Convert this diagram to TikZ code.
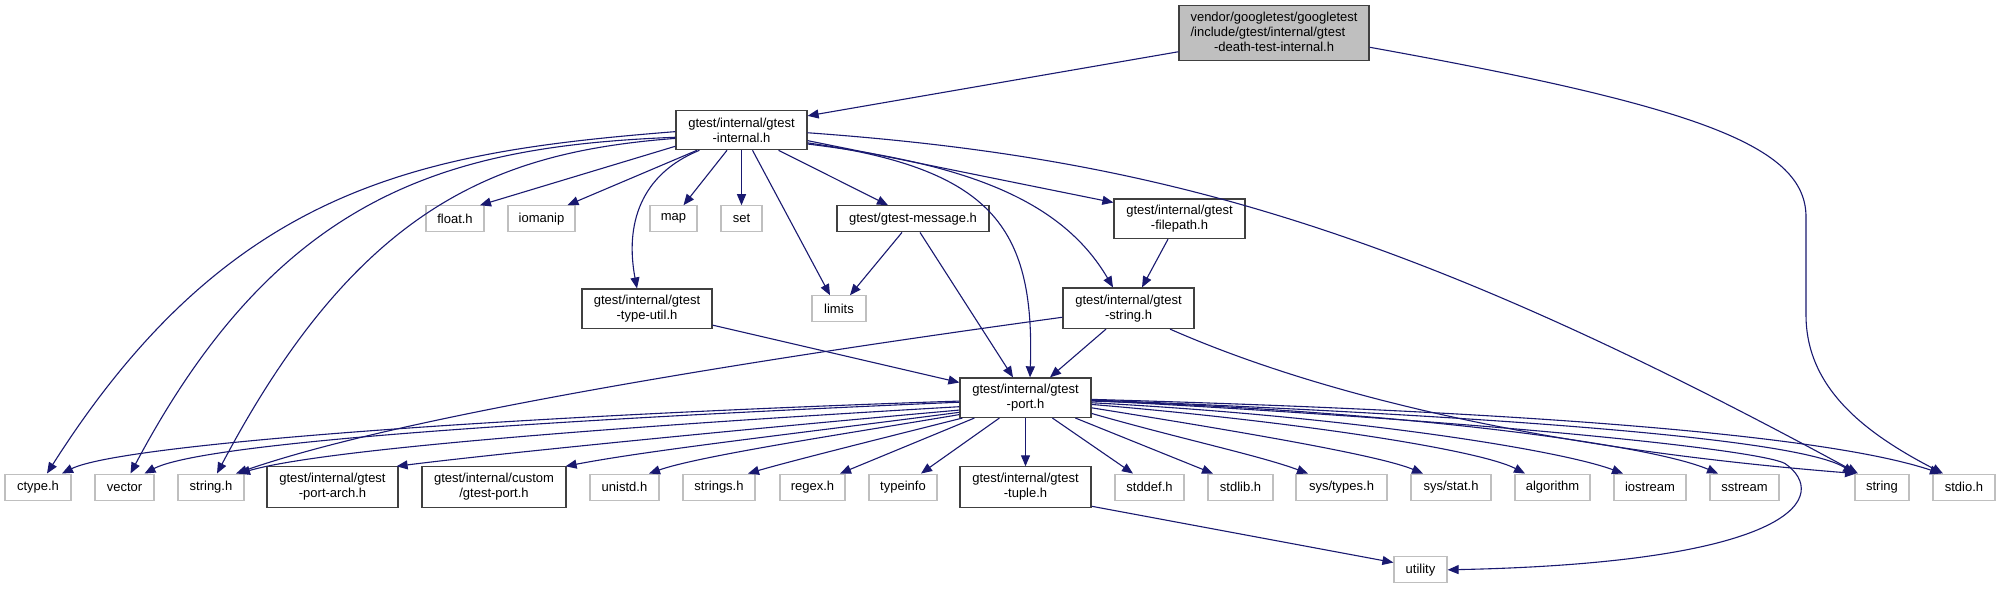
\documentclass[tikz,border=0pt]{standalone}
\usepackage{fontspec}
\setmainfont{Liberation Sans}
\usetikzlibrary{arrows.meta}
\definecolor{edgec}{HTML}{191970}
\definecolor{grayb}{HTML}{BFBFBF}
\definecolor{darkb}{HTML}{404040}
\begin{document}
\begin{tikzpicture}[x=1pt,y=-1.125pt,
  every node/.style={font=\fontsize{13}{15}\selectfont, inner sep=0pt, align=center},
  gbox/.style={draw=grayb, line width=1.2pt, fill=white, minimum height=26pt},
  bbox/.style={draw=darkb, line width=1.2pt, fill=white, minimum height=39.5pt},
  dep/.style={draw=edgec, line width=1.1pt, -{Triangle[length=11pt,width=9pt]}}
]
\useasboundingbox (0,0) rectangle (2001,522.67);
\fill[white] (0,0) rectangle (2001,522.67);

% black-bordered nodes
\node[bbox, fill=grayb, minimum width=190pt, minimum height=55pt] (root) at (1274,29.5)
  {\begin{tabular}{@{}l@{}}vendor/googletest/googletest\\/include/gtest/internal/gtest\\\multicolumn{1}{@{}c@{}}{-death-test-internal.h}\end{tabular}};
\node[bbox, minimum width=131pt] (internal) at (741.5,115.5) {gtest/internal/gtest\\-internal.h};
\node[bbox, minimum width=152pt, minimum height=26pt] (message) at (913,194.5) {gtest/gtest-message.h};
\node[bbox, minimum width=131pt] (filepath) at (1179.5,194.5) {gtest/internal/gtest\\-filepath.h};
\node[bbox, minimum width=130pt] (typeutil) at (647,274.5) {gtest/internal/gtest\\-type-util.h};
\node[bbox, minimum width=131pt, minimum height=40.5pt] (gstring) at (1128.5,274) {gtest/internal/gtest\\-string.h};
\node[bbox, minimum width=131pt] (port) at (1025.5,353.5) {gtest/internal/gtest\\-port.h};
\node[bbox, minimum width=131pt, minimum height=40.5pt] (portarch) at (332.5,433) {gtest/internal/gtest\\-port-arch.h};
\node[bbox, minimum width=144pt, minimum height=40.5pt] (custom) at (494,433) {gtest/internal/custom\\/gtest-port.h};
\node[bbox, minimum width=131pt, minimum height=40.5pt] (tuple) at (1025.5,433) {gtest/internal/gtest\\-tuple.h};

% gray-bordered nodes
\node[gbox, minimum width=58pt] (float) at (455,194.5) {float.h};
\node[gbox, minimum width=67pt] (iomanip) at (541.5,194.5) {iomanip};
\node[gbox, minimum width=47pt] (map) at (673.5,194.5) {map};
\node[gbox, minimum width=41pt] (set) at (741.5,194.5) {set};
\node[gbox, minimum width=54pt] (limits) at (839,274.5) {limits};
\node[gbox, minimum width=66pt] (ctype) at (38,433) {ctype.h};
\node[gbox, minimum width=59pt] (vector) at (124.5,433) {vector};
\node[gbox, minimum width=66pt] (stringh) at (211,433) {string.h};
\node[gbox, minimum width=69pt] (unistd) at (624.5,433) {unistd.h};
\node[gbox, minimum width=72pt] (strings) at (719,433) {strings.h};
\node[gbox, minimum width=65pt] (regex) at (812.5,433) {regex.h};
\node[gbox, minimum width=68pt] (typeinfo) at (903,433) {typeinfo};
\node[gbox, minimum width=69pt] (stddef) at (1149.5,433) {stddef.h};
\node[gbox, minimum width=65pt] (stdlib) at (1240.5,433) {stdlib.h};
\node[gbox, minimum width=91pt] (systypes) at (1341.5,433) {sys/types.h};
\node[gbox, minimum width=80pt] (sysstat) at (1451,433) {sys/stat.h};
\node[gbox, minimum width=75pt] (algorithm) at (1552.5,433) {algorithm};
\node[gbox, minimum width=72pt] (iostream) at (1650,433) {iostream};
\node[gbox, minimum width=69pt] (sstream) at (1744.5,433) {sstream};
\node[gbox, minimum width=54pt] (string) at (1882,433) {string};
\node[gbox, minimum width=62pt] (stdio) at (1964,433) {stdio.h};
\node[gbox, minimum width=53pt] (utility) at (1420.5,506.5) {utility};

% root edges
\draw[dep] ([shift={(0,16.5)}]root.west) -- ([shift={(0,-12.5)}]internal.east);
\draw[dep] ([shift={(0,12.5)}]root.east) .. controls (1700,95) and (1806,130) .. (1806,193) -- (1806,280) .. controls (1806,345) and (1865,385) .. ([shift={(-21,0)}]stdio.north);

% internal edges
\draw[dep] ([shift={(0,1.5)}]internal.west) .. controls (420,135) and (230,165) .. ([shift={(9,0)}]ctype.north);
\draw[dep] ([shift={(0,6.5)}]internal.west) .. controls (450,130) and (280,170) .. ([shift={(6,0)}]vector.north);
\draw[dep] ([shift={(0,7.5)}]internal.west) .. controls (500,135) and (360,180) .. ([shift={(6,0)}]stringh.north);
\draw[dep] ([shift={(0,14.5)}]internal.west) -- ([shift={(25,0)}]float.north);
\draw[dep] ([shift={(-44.5,0)}]internal.south) -- ([shift={(26,0)}]iomanip.north);
\draw[dep] ([shift={(-42,0)}]internal.south) .. controls (640,155) and (625,200) .. ([shift={(-10,0)}]typeutil.north);
\draw[dep] ([shift={(-14.5,0)}]internal.south) -- ([shift={(10,0)}]map.north);
\draw[dep] (internal.south) -- (set.north);
\draw[dep] ([shift={(11,0)}]internal.south) -- ([shift={(-9,0)}]limits.north);
\draw[dep] ([shift={(37,0)}]internal.south) -- ([shift={(-25,0)}]message.north);
\draw[dep] ([shift={(0,9.5)}]internal.east) -- ([shift={(0,-14.5)}]filepath.west);
\draw[dep] ([shift={(0,12.5)}]internal.east) .. controls (960,145) and (1060,175) .. ([shift={(-15.5,0)}]gstring.north);
\draw[dep] ([shift={(0,11.5)}]internal.east) .. controls (990,150) and (1035,200) .. ([shift={(4.5,0)}]port.north);
\draw[dep] ([shift={(0,2.5)}]internal.east) .. controls (1150,140) and (1400,200) .. ([shift={(-24,0)}]string.north);

% message, filepath, string, type-util edges
\draw[dep] ([shift={(-11,0)}]message.south) -- ([shift={(11,0)}]limits.north);
\draw[dep] ([shift={(7,0)}]message.south) -- ([shift={(-12.5,0)}]port.north);
\draw[dep] ([shift={(-11.5,0)}]filepath.south) -- ([shift={(13.5,0)}]gstring.north);
\draw[dep] ([shift={(-22.5,0)}]gstring.south) -- ([shift={(24.5,0)}]port.north);
\draw[dep] ([shift={(0,8)}]gstring.west) .. controls (750,320) and (400,370) .. ([shift={(25,0)}]stringh.north);
\draw[dep] ([shift={(41.5,0)}]gstring.south) .. controls (1330,355) and (1560,400) .. ([shift={(-26,0)}]string.north);
\draw[dep] ([shift={(0,14.5)}]typeutil.east) -- ([shift={(0,-13.5)}]port.west);

% port edges
\draw[dep] ([shift={(0,3)}]port.west) .. controls (500,370) and (120,395) .. ([shift={(24,0)}]ctype.north);
\draw[dep] ([shift={(0,4)}]port.west) .. controls (500,375) and (200,395) .. ([shift={(20,0)}]vector.north);
\draw[dep] ([shift={(0,8)}]port.west) .. controls (600,380) and (320,400) .. ([shift={(28,0)}]stringh.north);
\draw[dep] ([shift={(0,11)}]port.west) .. controls (700,385) and (480,405) .. ([shift={(-2,0)}]portarch.north east);
\draw[dep] ([shift={(0,13)}]port.west) .. controls (800,385) and (650,400) .. ([shift={(-1,0)}]custom.north east);
\draw[dep] ([shift={(0,15)}]port.west) .. controls (850,385) and (700,405) .. ([shift={(24.5,0)}]unistd.north);
\draw[dep] ([shift={(3,0)}]port.south west) .. controls (880,390) and (790,410) .. ([shift={(29,0)}]strings.north);
\draw[dep] ([shift={(15,0)}]port.south west) -- ([shift={(27.5,0)}]regex.north);
\draw[dep] ([shift={(40,0)}]port.south west) -- ([shift={(18,0)}]typeinfo.north);
\draw[dep] (port.south) -- (tuple.north);
\draw[dep] ([shift={(93,0)}]port.south west) -- ([shift={(-16.5,0)}]stddef.north);
\draw[dep] ([shift={(116,0)}]port.south west) -- ([shift={(-27.5,0)}]stdlib.north);
\draw[dep] ([shift={(0,14)}]port.east) .. controls (1180,390) and (1260,405) .. ([shift={(-33.5,0)}]systypes.north);
\draw[dep] ([shift={(0,9)}]port.east) .. controls (1250,385) and (1380,405) .. ([shift={(-28,0)}]sysstat.north);
\draw[dep] ([shift={(0,6)}]port.east) .. controls (1300,375) and (1480,400) .. ([shift={(-27.5,0)}]algorithm.north);
\draw[dep] ([shift={(0,4.5)}]port.east) .. controls (1350,370) and (1560,400) .. ([shift={(-27,0)}]iostream.north);
\draw[dep] ([shift={(0,3)}]port.east) .. controls (1400,365) and (1650,395) .. ([shift={(-26.5,0)}]sstream.north);
\draw[dep] ([shift={(0,2)}]port.east) .. controls (1500,370) and (1800,390) .. ([shift={(-28,0)}]string.north);
\draw[dep] ([shift={(0,1.5)}]port.east) .. controls (1500,365) and (1820,385) .. ([shift={(-23,0)}]stdio.north);
\draw[dep] ([shift={(0,2.5)}]port.east) .. controls (1500,375) and (1760,400) .. (1785,412) .. controls (1830,440) and (1800,500) .. (utility.east);
\draw[dep] ([shift={(0,17)}]tuple.east) -- ([shift={(0,-6.5)}]utility.west);
\end{tikzpicture}
\end{document}
